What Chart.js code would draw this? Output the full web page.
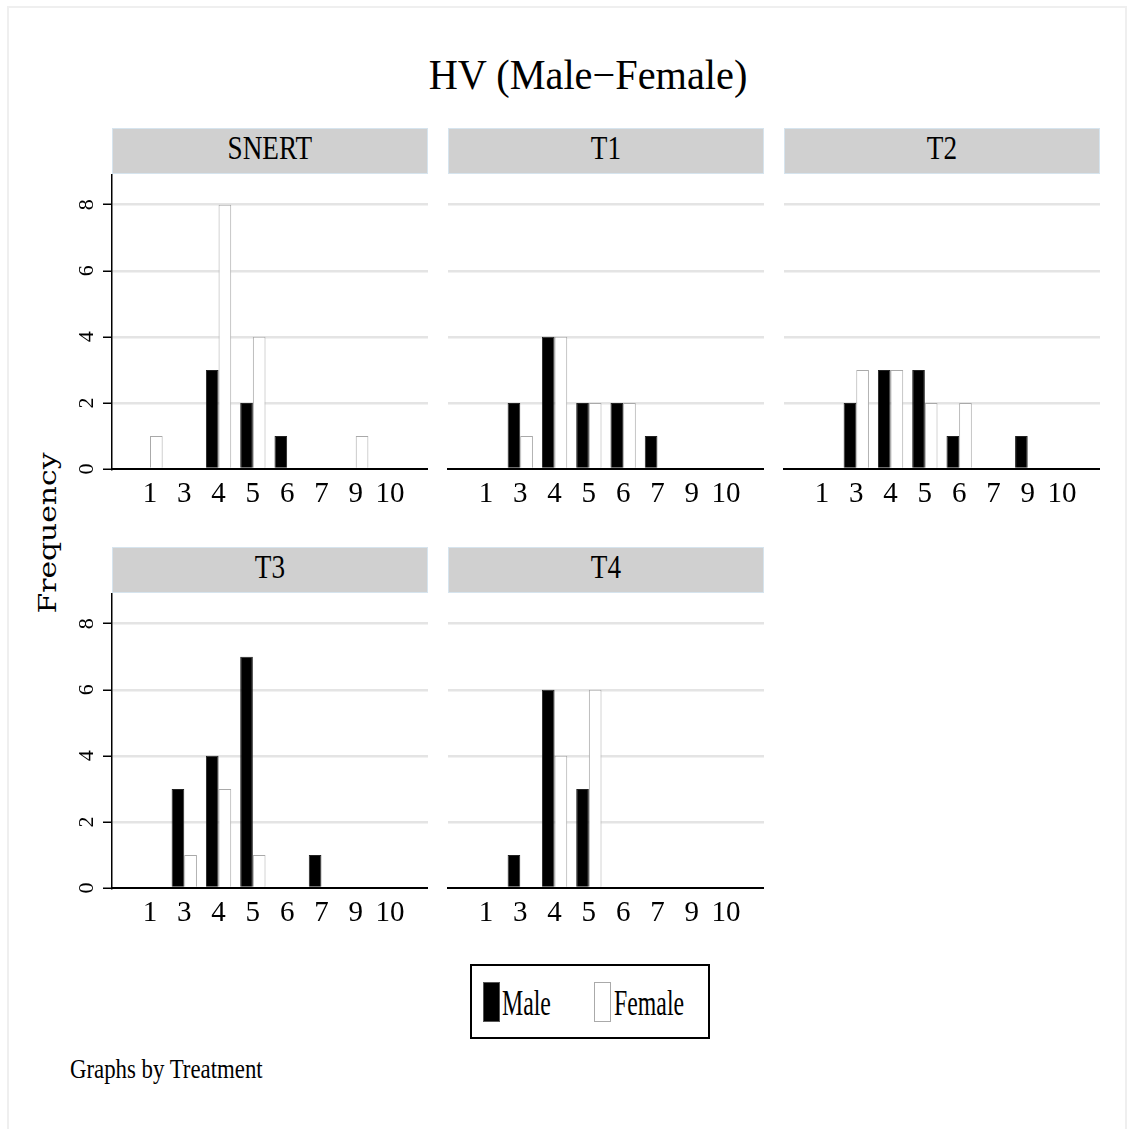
<!DOCTYPE html>
<html>
<head>
<meta charset="utf-8">
<script src="https://cdn.jsdelivr.net/npm/chart.js@4.4.1/dist/chart.umd.min.js"></script>
<style>
  body { margin: 0; background: #fff; width: 1133px; height: 1129px; overflow: hidden; position: relative; font-family: "Liberation Serif", serif; color: #000; }
  .frame { position: absolute; left: 7px; top: 6px; width: 1116px; height: 1140px; border: 2px solid #efefef; }
  .title { position: absolute; left: 0; width: 1176px; top: 54px; text-align: center; font-size: 42px; line-height: 42px; }
  .title span, .strip span { display: inline-block; }
  .title span { transform: scaleX(0.96); }
  .strip { position: absolute; height: 44px; background: #d0d0d0; border: 1px solid #d6e4ee; text-align: center; font-size: 34px; line-height: 38px; }
  .strip span { transform: scaleX(0.8); }
  canvas { position: absolute; }
  .freq { position: absolute; left: 48px; top: 533px; font-family: "DejaVu Serif", serif; font-size: 24px; line-height: 1; white-space: nowrap; transform: translate(-50%, -50%) rotate(-90deg) scaleX(1.24); }
  .legend { position: absolute; left: 470px; top: 964px; width: 236px; height: 71px; border: 2px solid #000; }
  .sw { position: absolute; top: 16px; width: 15px; height: 38px; }
  .lt { position: absolute; top: 20px; font-size: 35px; line-height: 35px; white-space: nowrap; transform-origin: left center; transform: scaleX(0.68); }
  .note { position: absolute; left: 70px; top: 1055px; font-size: 28px; line-height: 28px; white-space: nowrap; transform-origin: left center; transform: scaleX(0.815); }
</style>
</head>
<body>
<div class="frame"></div>
<div class="title"><span>HV (Male&minus;Female)</span></div>
<div class="freq">Frequency</div>
<div class="legend">
  <div class="sw" style="left:11px;background:#000;border:1px solid #555;"></div>
  <div class="lt" style="left:30px;">Male</div>
  <div class="sw" style="left:122px;background:#fff;border:1px solid #aaa;"></div>
  <div class="lt" style="left:142px;">Female</div>
</div>
<div class="note">Graphs by Treatment</div>

<script>
var categories = ['1', '3', '4', '5', '6', '7', '9', '10'];
var treatments = ['SNERT', 'T1', 'T2', 'T3', 'T4'];
var yTicks = [0, 2, 4, 6, 8];

var maleSNERT = [0, 0, 3, 2, 1, 0, 0, 0];
var femaleSNERT = [1, 0, 8, 4, 0, 0, 1, 0];
var maleT1 = [0, 2, 4, 2, 2, 1, 0, 0];
var femaleT1 = [0, 1, 4, 2, 2, 0, 0, 0];
var maleT2 = [0, 2, 3, 3, 1, 0, 1, 0];
var femaleT2 = [0, 3, 3, 2, 2, 0, 0, 0];
var maleT3 = [0, 3, 4, 7, 0, 1, 0, 0];
var femaleT3 = [0, 1, 3, 1, 0, 0, 0, 0];
var maleT4 = [0, 1, 6, 3, 0, 0, 0, 0];
var femaleT4 = [0, 0, 4, 6, 0, 0, 0, 0];

var maleData = [maleSNERT, maleT1, maleT2, maleT3, maleT4];
var femaleData = [femaleSNERT, femaleT1, femaleT2, femaleT3, femaleT4];

// panel layout
var colX = [112, 448, 784];
var rowTop = [174, 592.5];
var plotW = 316;
var plotH = 295;
var yAxisW = 60;
var canvasH = 341;

function toPoints(arr) {
  return arr.map(function (v, i) { return { x: i, y: v }; });
}

function makePanel(k) {
  var col = k % 3, row = Math.floor(k / 3);
  var left = col === 0;

  var strip = document.createElement('div');
  strip.className = 'strip';
  strip.style.left = colX[col] + 'px';
  strip.style.top = (rowTop[row] - 46) + 'px';
  strip.style.width = (plotW - 2) + 'px';
  strip.innerHTML = '<span>' + treatments[k] + '</span>';
  document.body.appendChild(strip);

  var cv = document.createElement('canvas');
  cv.width = yAxisW + plotW;
  cv.height = canvasH;
  cv.style.left = (colX[col] - yAxisW) + 'px';
  cv.style.top = rowTop[row] + 'px';
  document.body.appendChild(cv);

  new Chart(cv, {
    type: 'bar',
    data: {
      datasets: [{
        label: 'Male',
        data: toPoints(maleData[k]),
        backgroundColor: '#000',
        borderColor: '#222',
        borderWidth: 1,
        categoryPercentage: 0.738,
        barPercentage: 1
      }, {
        label: 'Female',
        data: toPoints(femaleData[k]),
        backgroundColor: '#fff',
        borderColor: '#a9a9a9',
        borderWidth: 1,
        categoryPercentage: 0.738,
        barPercentage: 1
      }]
    },
    options: {
      responsive: false,
      animation: false,
      devicePixelRatio: 1,
      layout: { padding: 0 },
      plugins: { legend: { display: false }, tooltip: { enabled: false } },
      scales: {
        x: {
          type: 'linear',
          min: -1.108,
          max: 8.108,
          offset: false,
          grid: { display: false, drawTicks: false },
          border: { display: true, color: '#000', width: 2 },
          afterBuildTicks: function (s) { s.ticks = categories.map(function (c, i) { return { value: i }; }); },
          afterFit: function (s) { s.height = canvasH - plotH; s.paddingLeft = 0; s.paddingRight = 0; },
          ticks: {
            autoSkip: false, maxRotation: 0, padding: 8, color: '#000',
            font: { family: 'Liberation Serif', size: 29 },
            callback: function (v) { return categories[v]; }
          }
        },
        y: {
          min: 0,
          max: 8.93,
          afterBuildTicks: function (s) { s.ticks = yTicks.map(function (v) { return { value: v }; }); },
          afterFit: function (s) { s.width = yAxisW; s.paddingTop = 0; s.paddingBottom = 0; },
          grid: {
            color: function (c) { return c.tick && c.tick.value === 0 ? 'rgba(0,0,0,0)' : '#e4e4e4'; },
            lineWidth: 2.5,
            drawTicks: left,
            tickLength: 9,
            tickColor: '#000',
            tickWidth: 1.5
          },
          border: { display: left, color: '#000', width: 1.5 },
          ticks: {
            display: left, minRotation: 90, maxRotation: 90, crossAlign: 'center', padding: 10, color: '#000',
            font: { family: 'Liberation Serif', size: 22 }
          }
        }
      }
    }
  });
}

for (var k = 0; k < treatments.length; k++) {
  makePanel(k);
}
</script>
</body>
</html>
